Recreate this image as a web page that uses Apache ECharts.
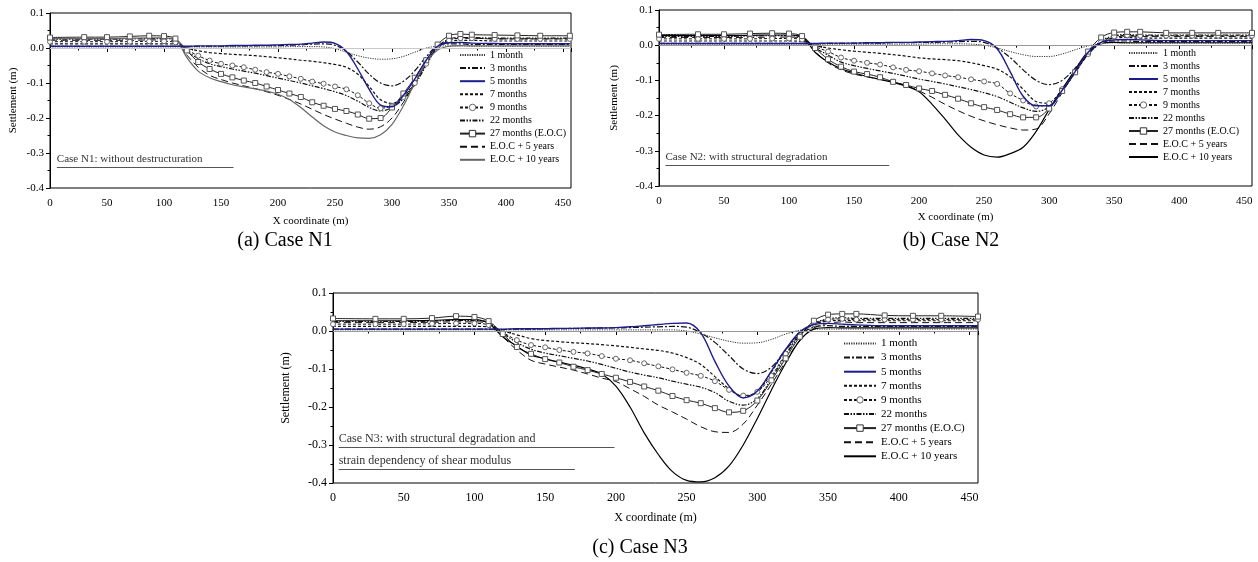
<!DOCTYPE html>
<html>
<head>
<meta charset="utf-8">
<script src="https://cdn.jsdelivr.net/npm/echarts@6/dist/echarts.min.js"></script>
<style>
  html, body { margin: 0; background: #fff; }
  #chart { width: 1258px; height: 562px; }
</style>
</head>
<body>
<div id="chart"></div>
<script>
// x stations (m), shared by every curve
const X = [0, 30, 50, 70, 87, 100, 110,
  120, 130, 140, 150, 160, 170, 180, 190, 200,
  210, 220, 230, 240, 250, 260, 270, 280, 290,
  300, 310, 320, 330, 340, 350, 360, 370,
  390, 410, 430, 456];

const names = ['1 month', '3 months', '5 months', '7 months', '9 months', '22 months',
  '27 months (E.O.C)', 'E.O.C + 5 years', 'E.O.C + 10 years'];

const xTicks = [0, 50, 100, 150, 200, 250, 300, 350, 400, 450];
const yTicks = [0.1, 0.0, -0.1, -0.2, -0.3, -0.4];

// Case N1: without destructuration
const n1_m1 = [0.003, 0.003, 0.003, 0.003, 0.003, 0.003, 0.003,
  0.003, 0.003, 0.003, 0.003, 0.003, 0.003, 0.003, 0.003, 0.003,
  0.004, 0.004, 0.004, 0.003, -0.002, -0.012, -0.022, -0.029, -0.032,
  -0.031, -0.024, -0.012, 0.0, 0.005, 0.006, 0.006, 0.005,
  0.005, 0.005, 0.005, 0.005];
const n1_m3 = [0.005, 0.005, 0.005, 0.005, 0.005, 0.005, 0.005,
  0.004, 0.005, 0.005, 0.005, 0.006, 0.006, 0.006, 0.007, 0.007,
  0.008, 0.009, 0.011, 0.012, 0.008, -0.01, -0.04, -0.075, -0.1,
  -0.108, -0.095, -0.065, -0.025, 0.006, 0.012, 0.012, 0.01,
  0.01, 0.01, 0.01, 0.01];
const n1_m5 = [0.005, 0.005, 0.005, 0.005, 0.005, 0.005, 0.005,
  0.005, 0.006, 0.006, 0.006, 0.007, 0.007, 0.008, 0.008, 0.009,
  0.01, 0.011, 0.014, 0.017, 0.013, -0.01, -0.06, -0.118, -0.163,
  -0.168, -0.135, -0.088, -0.035, 0.005, 0.015, 0.016, 0.014,
  0.013, 0.012, 0.012, 0.012];
const n1_m7 = [0.012, 0.012, 0.012, 0.012, 0.012, 0.012, 0.011,
  0.0, -0.008, -0.013, -0.016, -0.018, -0.02, -0.022, -0.025, -0.028,
  -0.031, -0.035, -0.038, -0.042, -0.047, -0.055, -0.075, -0.11, -0.148,
  -0.158, -0.138, -0.098, -0.045, 0.002, 0.018, 0.022, 0.022,
  0.02, 0.02, 0.02, 0.02];
const n1_m9 = [0.018, 0.018, 0.018, 0.018, 0.019, 0.019, 0.016,
  -0.005, -0.022, -0.036, -0.045, -0.05, -0.055, -0.062, -0.069, -0.074,
  -0.081, -0.088, -0.096, -0.102, -0.11, -0.118, -0.135, -0.158, -0.172,
  -0.165, -0.14, -0.1, -0.045, 0.005, 0.022, 0.028, 0.028,
  0.026, 0.026, 0.026, 0.026];
const n1_m22 = [0.025, 0.025, 0.025, 0.026, 0.027, 0.027, 0.022,
  -0.008, -0.03, -0.045, -0.053, -0.06, -0.066, -0.072, -0.079, -0.086,
  -0.093, -0.1, -0.108, -0.116, -0.125, -0.136, -0.152, -0.17, -0.18,
  -0.17, -0.145, -0.105, -0.05, 0.003, 0.025, 0.03, 0.03,
  0.028, 0.028, 0.028, 0.028];
const n1_m27 = [0.03, 0.031, 0.031, 0.033, 0.035, 0.034, 0.027,
  -0.007, -0.04, -0.06, -0.074, -0.084, -0.093, -0.1, -0.11, -0.12,
  -0.13, -0.14, -0.155, -0.165, -0.174, -0.18, -0.19, -0.202, -0.2,
  -0.17, -0.13, -0.085, -0.035, 0.01, 0.035, 0.04, 0.038,
  0.037, 0.036, 0.035, 0.035];
const n1_e5 = [0.022, 0.022, 0.022, 0.022, 0.023, 0.023, 0.02,
  -0.02, -0.055, -0.078, -0.09, -0.1, -0.108, -0.116, -0.125, -0.135,
  -0.147, -0.16, -0.175, -0.19, -0.203, -0.215, -0.226, -0.232, -0.225,
  -0.2, -0.155, -0.1, -0.045, 0.0, 0.022, 0.028, 0.028,
  0.026, 0.026, 0.026, 0.026];
const n1_e10 = [0.027, 0.027, 0.027, 0.028, 0.029, 0.029, 0.024,
  -0.027, -0.066, -0.085, -0.096, -0.105, -0.111, -0.117, -0.123, -0.132,
  -0.147, -0.17, -0.197, -0.222, -0.24, -0.25, -0.257, -0.258, -0.248,
  -0.218, -0.165, -0.1, -0.042, -0.006, 0.005, 0.007, 0.006,
  0.006, 0.006, 0.006, 0.006];

// Case N2: with structural degradation
const n2_m1 = [0.003, 0.003, 0.003, 0.003, 0.003, 0.003, 0.003,
  0.003, 0.003, 0.003, 0.003, 0.003, 0.003, 0.003, 0.003, 0.003,
  0.004, 0.004, 0.004, 0.003, 0.0, -0.008, -0.018, -0.027, -0.032,
  -0.032, -0.025, -0.013, -0.002, 0.005, 0.007, 0.006, 0.006,
  0.006, 0.006, 0.006, 0.006];
const n2_m3 = [0.005, 0.005, 0.005, 0.005, 0.005, 0.005, 0.005,
  0.004, 0.005, 0.005, 0.006, 0.006, 0.006, 0.007, 0.007, 0.008,
  0.008, 0.009, 0.01, 0.011, 0.008, -0.008, -0.035, -0.07, -0.1,
  -0.112, -0.1, -0.065, -0.025, 0.005, 0.012, 0.012, 0.01,
  0.01, 0.01, 0.01, 0.01];
const n2_m5 = [0.005, 0.005, 0.005, 0.005, 0.005, 0.005, 0.005,
  0.005, 0.006, 0.006, 0.006, 0.007, 0.007, 0.008, 0.008, 0.009,
  0.01, 0.011, 0.013, 0.016, 0.013, -0.01, -0.075, -0.145, -0.172,
  -0.172, -0.128, -0.075, -0.02, 0.008, 0.015, 0.016, 0.015,
  0.013, 0.013, 0.013, 0.013];
const n2_m7 = [0.012, 0.012, 0.012, 0.012, 0.012, 0.012, 0.011,
  -0.001, -0.008, -0.013, -0.017, -0.02, -0.023, -0.027, -0.031, -0.036,
  -0.039, -0.041, -0.044, -0.05, -0.058, -0.068, -0.09, -0.125, -0.16,
  -0.165, -0.13, -0.078, -0.025, 0.008, 0.02, 0.022, 0.02,
  0.02, 0.02, 0.02, 0.02];
const n2_m9 = [0.018, 0.018, 0.018, 0.018, 0.019, 0.019, 0.016,
  -0.004, -0.018, -0.035, -0.044, -0.05, -0.055, -0.063, -0.07, -0.074,
  -0.08, -0.086, -0.091, -0.097, -0.103, -0.11, -0.137, -0.157, -0.174,
  -0.165, -0.125, -0.075, -0.025, 0.01, 0.025, 0.028, 0.027,
  0.027, 0.027, 0.027, 0.027];
const n2_m22 = [0.025, 0.025, 0.025, 0.026, 0.027, 0.027, 0.022,
  -0.007, -0.028, -0.048, -0.058, -0.066, -0.073, -0.08, -0.088, -0.096,
  -0.103, -0.11, -0.118, -0.126, -0.135, -0.146, -0.162, -0.178, -0.188,
  -0.175, -0.13, -0.078, -0.025, 0.012, 0.027, 0.03, 0.029,
  0.029, 0.029, 0.029, 0.029];
const n2_m27 = [0.03, 0.031, 0.031, 0.033, 0.034, 0.033, 0.026,
  -0.008, -0.04, -0.061, -0.075, -0.082, -0.091, -0.104, -0.113, -0.123,
  -0.13, -0.141, -0.152, -0.165, -0.176, -0.184, -0.196, -0.205, -0.205,
  -0.18, -0.13, -0.077, -0.018, 0.022, 0.036, 0.038, 0.038,
  0.035, 0.035, 0.035, 0.035];
const n2_e5 = [0.022, 0.022, 0.022, 0.022, 0.023, 0.023, 0.02,
  -0.018, -0.05, -0.07, -0.082, -0.09, -0.097, -0.105, -0.115, -0.13,
  -0.148, -0.168, -0.186, -0.202, -0.215, -0.226, -0.235, -0.241, -0.238,
  -0.195, -0.135, -0.075, -0.022, 0.008, 0.022, 0.026, 0.025,
  0.025, 0.025, 0.025, 0.025];
const n2_e10 = [0.027, 0.027, 0.027, 0.028, 0.029, 0.029, 0.024,
  -0.02, -0.048, -0.067, -0.079, -0.089, -0.097, -0.106, -0.116, -0.132,
  -0.168, -0.21, -0.255, -0.29, -0.312, -0.318, -0.308, -0.29, -0.245,
  -0.183, -0.125, -0.07, -0.018, 0.006, 0.008, 0.007, 0.007,
  0.007, 0.007, 0.007, 0.007];

// Case N3: structural degradation and strain dependency of shear modulus
const n3_m1 = [0.003, 0.003, 0.003, 0.003, 0.003, 0.003, 0.003,
  0.003, 0.003, 0.003, 0.003, 0.003, 0.003, 0.003, 0.003, 0.003,
  0.003, 0.003, 0.003, 0.003, 0.0, -0.008, -0.018, -0.027, -0.032,
  -0.031, -0.022, -0.008, 0.002, 0.005, 0.005, 0.005, 0.005,
  0.005, 0.005, 0.005, 0.005];
const n3_m3 = [0.005, 0.005, 0.005, 0.005, 0.005, 0.005, 0.005,
  0.004, 0.005, 0.005, 0.006, 0.006, 0.007, 0.007, 0.008, 0.008,
  0.009, 0.01, 0.011, 0.012, 0.01, -0.005, -0.03, -0.065, -0.1,
  -0.112, -0.095, -0.05, -0.01, 0.01, 0.014, 0.012, 0.012,
  0.012, 0.012, 0.012, 0.012];
const n3_m5 = [0.005, 0.005, 0.005, 0.005, 0.005, 0.005, 0.005,
  0.005, 0.006, 0.006, 0.006, 0.007, 0.007, 0.008, 0.008, 0.009,
  0.011, 0.014, 0.017, 0.02, 0.021, -0.005, -0.08, -0.145, -0.176,
  -0.158, -0.105, -0.048, -0.003, 0.017, 0.02, 0.018, 0.016,
  0.014, 0.014, 0.014, 0.014];
const n3_m7 = [0.012, 0.012, 0.012, 0.012, 0.012, 0.012, 0.011,
  0.0, -0.01, -0.02, -0.025, -0.028, -0.031, -0.033, -0.036, -0.039,
  -0.043, -0.047, -0.051, -0.058, -0.07, -0.088, -0.12, -0.152, -0.172,
  -0.16, -0.108, -0.05, -0.005, 0.018, 0.026, 0.028, 0.027,
  0.027, 0.027, 0.027, 0.027];
const n3_m9 = [0.018, 0.018, 0.018, 0.019, 0.02, 0.02, 0.016,
  -0.004, -0.024, -0.037, -0.043, -0.05, -0.055, -0.059, -0.066, -0.073,
  -0.077, -0.085, -0.093, -0.101, -0.11, -0.118, -0.132, -0.155, -0.17,
  -0.16, -0.118, -0.06, -0.01, 0.018, 0.03, 0.032, 0.03,
  0.03, 0.03, 0.03, 0.03];
const n3_m22 = [0.025, 0.025, 0.025, 0.026, 0.028, 0.028, 0.022,
  -0.006, -0.03, -0.048, -0.058, -0.065, -0.072, -0.079, -0.088, -0.098,
  -0.108, -0.116, -0.123, -0.132, -0.14, -0.148, -0.162, -0.185, -0.195,
  -0.178, -0.125, -0.065, -0.012, 0.02, 0.032, 0.035, 0.033,
  0.033, 0.033, 0.033, 0.033];
const n3_m27 = [0.033, 0.032, 0.032, 0.034, 0.039, 0.037, 0.026,
  -0.008, -0.042, -0.06, -0.074, -0.083, -0.094, -0.103, -0.113, -0.123,
  -0.134, -0.146, -0.157, -0.171, -0.182, -0.19, -0.203, -0.214, -0.21,
  -0.183, -0.13, -0.072, -0.015, 0.027, 0.043, 0.045, 0.045,
  0.041, 0.04, 0.04, 0.038];
const n3_e5 = [0.022, 0.022, 0.022, 0.023, 0.024, 0.024, 0.02,
  -0.015, -0.05, -0.077, -0.087, -0.095, -0.103, -0.113, -0.124, -0.133,
  -0.152, -0.172, -0.195, -0.213, -0.232, -0.252, -0.265, -0.267, -0.245,
  -0.195, -0.14, -0.08, -0.025, 0.008, 0.02, 0.024, 0.022,
  0.022, 0.022, 0.022, 0.022];
const n3_e10 = [0.027, 0.027, 0.027, 0.028, 0.03, 0.03, 0.02,
  -0.015, -0.04, -0.063, -0.073, -0.082, -0.09, -0.1, -0.113, -0.145,
  -0.2, -0.268, -0.325, -0.37, -0.393, -0.397, -0.386, -0.355, -0.3,
  -0.23, -0.155, -0.085, -0.025, 0.005, 0.009, 0.008, 0.008,
  0.008, 0.008, 0.008, 0.008];

const cases = [
  [n1_m1, n1_m3, n1_m5, n1_m7, n1_m9, n1_m22, n1_m27, n1_e5, n1_e10],
  [n2_m1, n2_m3, n2_m5, n2_m7, n2_m9, n2_m22, n2_m27, n2_e5, n2_e10],
  [n3_m1, n3_m3, n3_m5, n3_m7, n3_m9, n3_m22, n3_m27, n3_e5, n3_e10]
];

// note lines: [text, x start, x end, y]
const notes = [
  [['Case N1: without destructuration', 6, 161, -0.34]],
  [['Case N2: with structural degradation', 5, 177, -0.34]],
  [['Case N3: with structural degradation and', 4, 199, -0.305],
   ['strain dependency of shear modulus', 4, 171, -0.363]]
];
const captions = ['(a) Case N1', '(b) Case N2', '(c) Case N3'];

const FONT = '"Liberation Serif", "DejaVu Serif", serif';

const layout = [
  { grid: { left: 50, top: 13, width: 521, height: 175 }, xmax: 457, fs: 11, yGap: 31, xGap: 28, xMargin: 10,
    legend: { left: 459, top: 50, itemWidth: 25, itemGap: 3.1, fs: 10 }, cap: [285, 231], e10: '#666', zero: '#c8c8c8' },
  { grid: { left: 659, top: 10, width: 593, height: 176 }, xmax: 456, fs: 11, yGap: 39, xGap: 26, xMargin: 10,
    legend: { left: 1128, top: 48, itemWidth: 29, itemGap: 3, fs: 10 }, cap: [951, 231], e10: '#000', zero: '#999' },
  { grid: { left: 333, top: 293, width: 645, height: 190 }, xmax: 456, fs: 12, yGap: 41, xGap: 29, xMargin: 9,
    legend: { left: 843, top: 338, itemWidth: 32, itemGap: 3.1, fs: 11 }, cap: [640, 538], e10: '#000', zero: '#999' }
];

function styleFor(k, L) {
  const base = { type: 'line', smooth: 0.35, showAllSymbol: true, symbol: 'none', animation: false };
  const s = [
    { lineStyle: { color: '#333', width: 1, type: [1.2, 1.2] } },
    { lineStyle: { color: '#111', width: 1.2, type: [6, 2, 2, 2] } },
    { lineStyle: { color: '#1c1c8c', width: 1.4, type: 'solid' } },
    { lineStyle: { color: '#111', width: 1.2, type: [3, 2] } },
    { lineStyle: { color: '#111', width: 1, type: [3, 2] }, symbol: 'circle', symbolSize: 5,
      itemStyle: { color: '#fff', borderColor: '#666', borderWidth: 1 } },
    { lineStyle: { color: '#111', width: 1.2, type: [5, 1.5, 1.5, 1.5, 1.5, 1.5] } },
    { lineStyle: { color: '#222', width: 1, type: 'solid' }, symbol: 'rect', symbolSize: 5,
      itemStyle: { color: '#fff', borderColor: '#555', borderWidth: 1 } },
    { lineStyle: { color: '#111', width: 1, type: [7, 4] } },
    { lineStyle: { color: L.e10, width: 1.2, type: 'solid' } }
  ][k];
  return Object.assign({}, base, s);
}

function legendItem(n, k, L) {
  const item = { name: n };
  if (k === 4) item.itemStyle = { color: '#fff', borderColor: '#666', borderWidth: 1 };
  else if (k === 6) item.itemStyle = { color: '#fff', borderColor: '#333', borderWidth: 1 };
  else item.itemStyle = { opacity: 0 };
  if (k === 8) item.lineStyle = { color: L.e10 };
  return item;
}

const option = {
  backgroundColor: '#fff',
  title: [], grid: [], xAxis: [], yAxis: [], legend: [], series: []
};

layout.forEach((L, p) => {
  option.grid.push(Object.assign({ show: true, borderColor: '#000', borderWidth: 1, backgroundColor: 'transparent' }, L.grid));
  option.xAxis.push({
    type: 'value', gridIndex: p, min: 0, max: L.xmax, interval: 50,
    name: 'X coordinate (m)', nameLocation: 'middle', nameGap: L.xGap,
    nameTextStyle: { fontFamily: FONT, fontSize: L.fs, color: '#000' },
    axisLine: { lineStyle: { color: '#000', width: 1 } },
    axisTick: { length: 4, lineStyle: { color: '#000' } },
    minorTick: { show: true, splitNumber: 2, length: 2.5, lineStyle: { color: '#000' } },
    splitLine: { show: false },
    axisLabel: { fontFamily: FONT, fontSize: L.fs, color: '#000', margin: L.xMargin,
      formatter: v => (xTicks.indexOf(Math.round(v)) >= 0 && Math.abs(v - Math.round(v)) < 1e-6) ? String(Math.round(v)) : '' }
  });
  option.yAxis.push({
    type: 'value', gridIndex: p, min: -0.4, max: 0.1, interval: 0.1,
    name: 'Settlement (m)', nameLocation: 'middle', nameGap: L.yGap,
    nameTextStyle: { fontFamily: FONT, fontSize: L.fs, color: '#000' },
    axisLine: { lineStyle: { color: '#000', width: 1 } },
    axisTick: { length: 4, lineStyle: { color: '#000' } },
    minorTick: { show: true, splitNumber: 2, length: 2.5, lineStyle: { color: '#000' } },
    splitLine: { show: false },
    axisLabel: { fontFamily: FONT, fontSize: L.fs, color: '#000', margin: 6,
      formatter: v => { const r = Math.round(v * 10) / 10; return Math.abs(r) < 1e-9 ? '0.0' : r.toFixed(1); } }
  });
  option.legend.push({
    orient: 'vertical', left: L.legend.left, top: L.legend.top,
    itemWidth: L.legend.itemWidth, itemHeight: 8, itemGap: L.legend.itemGap,
    selectedMode: false, padding: 0,
    textStyle: { fontFamily: FONT, fontSize: L.legend.fs, color: '#000' },
    data: names.map((n, k) => legendItem(n, k, L))
  });
  option.title.push({
    text: captions[p], left: L.cap[0], top: L.cap[1], textAlign: 'center', padding: 0,
    textStyle: { fontFamily: FONT, fontSize: 20, fontWeight: 'normal', color: '#000' }
  });

  cases[p].forEach((vals, k) => {
    const s = styleFor(k, L);
    s.name = names[k];
    s.xAxisIndex = p;
    s.yAxisIndex = p;
    s.z = k === 2 ? 4 : 3;
    s.data = X.map((x, i) => [x, vals[i]]);
    if (k === 0) {
      const md = [{ yAxis: 0, lineStyle: { color: L.zero, width: 1, type: 'solid' }, label: { show: false } }];
      notes[p].forEach(n => {
        md.push([
          { coord: [n[1], n[3]], lineStyle: { color: '#555', width: 1, type: 'solid' },
            label: { show: true, position: 'insideStartTop', distance: [0, 2], formatter: n[0],
              fontFamily: FONT, fontSize: L.fs, color: '#333' } },
          { coord: [n[2], n[3]] }
        ]);
      });
      s.markLine = { silent: true, symbol: 'none', animation: false, data: md };
    }
    option.series.push(s);
  });
});

const chart = echarts.init(document.getElementById('chart'));
chart.setOption(option);
</script>
</body>
</html>
